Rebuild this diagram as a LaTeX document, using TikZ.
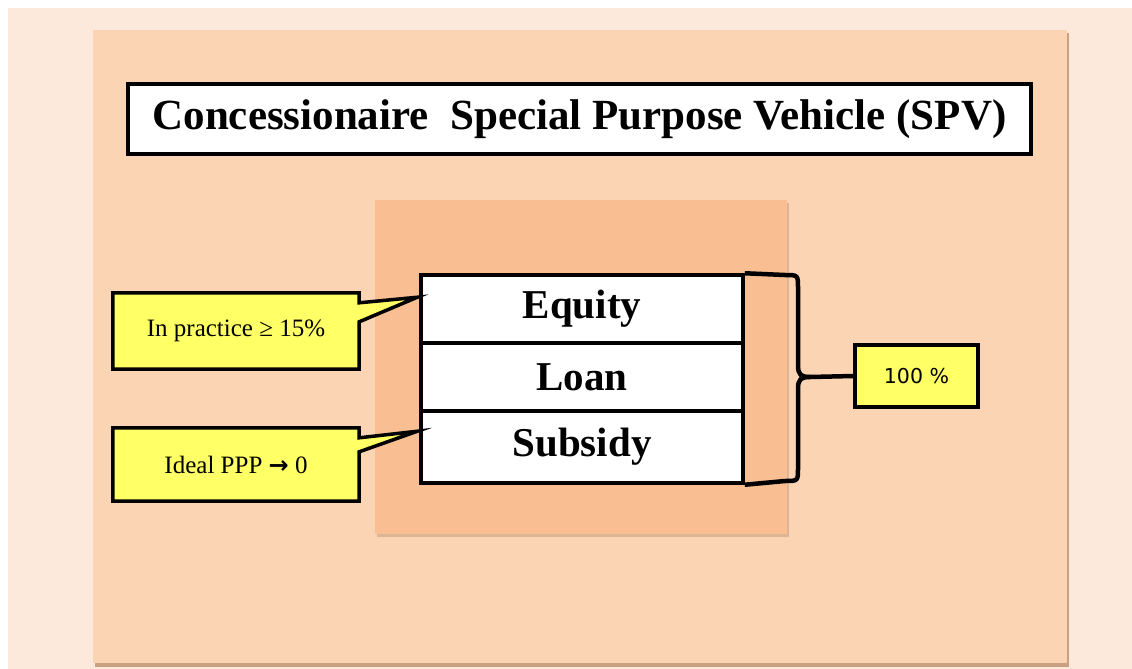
\documentclass[tikz,border=0pt]{standalone}
\usepackage{fontspec}
\setmainfont{Liberation Serif}
\newfontfamily\symfont{DejaVu Sans}
\newfontfamily\labelsans{DejaVu Sans}
\usetikzlibrary{calc}
\definecolor{bgout}{RGB}{252,233,219}
\definecolor{mainbox}{RGB}{251,212,180}
\definecolor{innerbox}{RGB}{249,190,146}
\definecolor{callyellow}{RGB}{255,255,102}
\definecolor{shadowc}{RGB}{200,160,130}
\tikzset{
  titlebox/.style={draw=black,line width=4pt,fill=white,inner sep=0pt,font=\fontsize{43}{48}\selectfont\bfseries},
  cell/.style={draw=black,line width=3.5pt,fill=white,minimum width=322pt,inner sep=0pt,font=\fontsize{41}{46}\selectfont\bfseries},
  callbox/.style={fill=callyellow,minimum width=246pt,inner sep=0pt,font=\fontsize{25}{30}\selectfont},
  callline/.style={draw=black,line width=3.5pt,line join=miter},
  bracel/.style={draw=black,line width=4.5pt},
  pctbox/.style={draw=black,line width=3.5pt,fill=callyellow,minimum width=123pt,minimum height=62pt,inner sep=0pt,font=\labelsans\fontsize{20.5}{24}\selectfont}
}
\begin{document}
\begin{tikzpicture}[x=1pt,y=-1pt]
\useasboundingbox (0,0) rectangle (1132,669);
\fill[white] (0,0) rectangle (1132,669);
\fill[bgout] (8,8) rectangle (1132,669);
% main panel
\fill[shadowc] (95,33) rectangle (1069,667);
\fill[mainbox] (93,30) rectangle (1067,663);
% inner panel
\fill[shadowc!60!mainbox] (377,203) rectangle (789,537);
\fill[innerbox] (375,200) rectangle (787,534);
% title
\node[titlebox,minimum width=903pt,minimum height=70pt] (title) at (579.5,119) {Concessionaire\ \ Special Purpose Vehicle (SPV)};
% table
\node[cell,minimum height=68pt] (equity) at (582,309) {Equity};
\node[cell,minimum height=68pt] (loan) at (582,377) {Loan};
\node[cell,minimum height=72pt] (subsidy) at (582,447) {Subsidy};
% callout 1
\node[callbox,minimum height=76pt] (c1) at (236,331) {In practice ≥ 15\%};
\coordinate (p1) at ($(equity.north west)+(-2,24)$);
\fill[callyellow] ($(c1.north east)+(0,10)$) -- (p1) -- ($(c1.north east)+(0,29)$) -- cycle;
\draw[callline] (c1.north west) -- (c1.north east) -- ($(c1.north east)+(0,10)$) -- (p1) -- ($(c1.north east)+(0,29)$) -- (c1.south east) -- (c1.south west) -- cycle;
% callout 2
\node[callbox,minimum height=73pt] (c2) at (236,464.5) {Ideal PPP {\symfont\bfseries\fontsize{24}{28}\selectfont →} 0};
\coordinate (p2) at ($(subsidy.north west)+(-2,22)$);
\fill[callyellow] ($(c2.north east)+(0,10)$) -- (p2) -- ($(c2.north east)+(0,24)$) -- cycle;
\draw[callline] (c2.north west) -- (c2.north east) -- ($(c2.north east)+(0,10)$) -- (p2) -- ($(c2.north east)+(0,24)$) -- (c2.south east) -- (c2.south west) -- cycle;
% 100 % box and brace
\node[pctbox] (pct) at (916.5,376) {100 \%};
\coordinate (bt) at (810,377);
\draw[bracel] (equity.north east) -- (785,275) .. controls (798,275) .. (798,288) -- (798,365) .. controls (798,375) and (801,377) .. (bt) -- (pct.west);
\draw[bracel] (bt) .. controls (801,377) and (798,379) .. (798,389) -- (798,468) .. controls (798,481) .. (785,481) -- (subsidy.south east);
\end{tikzpicture}
\end{document}
